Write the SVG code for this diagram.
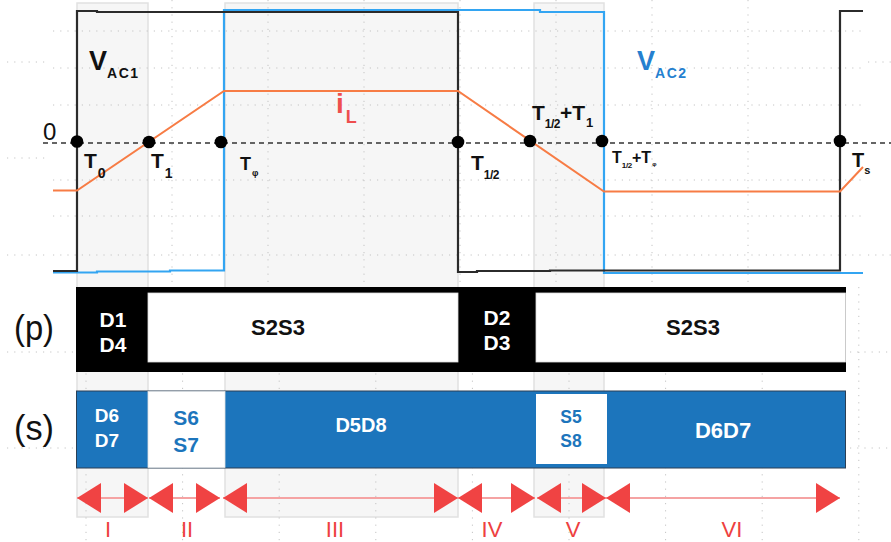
<svg xmlns="http://www.w3.org/2000/svg" width="891" height="542" viewBox="0 0 891 542">
  <style>
    text { font-family: "Liberation Sans", Arial, sans-serif; }
    .grid { stroke: #c4c4c4; stroke-width: 1; stroke-dasharray: 1.2 6; fill: none; }
    .shade { fill: #f6f6f6; stroke: #e1e1e1; stroke-width: 1.5; }
    .vac1 { fill: none; stroke: #2b2b2b; stroke-width: 2.2; }
    .vac2 { fill: none; stroke: #33a5f2; stroke-width: 2.2; }
    .il { fill: none; stroke: #f77c45; stroke-width: 2; }
    .zero { stroke: #333; stroke-width: 1.4; stroke-dasharray: 5 4; }
    .dot { fill: #000; }
    .tlab { font-weight: bold; fill: #111; }
    .dim { stroke: #f5a3a3; stroke-width: 2; marker-start: url(#tri); marker-end: url(#tri); }
    .roman { font-size: 22px; fill: #ee4040; text-anchor: middle; }
    .wt { fill: #fff; text-anchor: middle; font-weight: bold; }
    .bt { fill: #1c75bc; text-anchor: middle; font-weight: bold; }
  </style>
  <defs>
    <marker id="tri" viewBox="0 0 24 30" refX="24" refY="15" markerWidth="24" markerHeight="30" markerUnits="userSpaceOnUse" orient="auto-start-reverse">
      <path d="M0,0 L24,15 L0,30 Z" fill="#f04343"/>
    </marker>
  </defs>

  <rect width="891" height="542" fill="#fff"/>

  <!-- interval shading -->
  <g id="shading">
    <rect class="shade" x="77" y="3" width="71" height="514"/>
    <rect class="shade" x="225" y="3" width="233" height="514"/>
    <rect class="shade" x="534" y="3" width="70" height="514"/>
  </g>

  <!-- background dotted grids -->
  <g id="grid">
    <path class="grid" d="M172 0V287M268 0V287M364 0V287M460 0V287M556 0V287M652 0V287M748 0V287"/>
    <path class="grid" d="M53 31H863M53 68H863M53 105H863M53 180H863M53 216H863M53 255H863"/>
    <path class="grid" d="M7 62H47M7 158H47M7 255H47M868 62H891M868 255H891"/>
    <path class="grid" d="M7 352H75M7 448H75M850 352H891M850 448H891"/>
    <path class="grid" d="M86 287V542M182.6 287V542M279.2 287V542M375.8 287V542M472.4 287V542M569 287V542M665.6 287V542M762.2 287V542M858.8 287V542"/>
  </g>

  <!-- zero axis -->
  <line id="axis" class="zero" x1="43" y1="143" x2="891" y2="143"/>
  <text x="43" y="140" font-size="24" fill="#111">0</text>

  <!-- waveforms -->
  <g id="vac2">
    <path class="vac2" d="M53 272.5H97V271.5H170V270.5H224V10H540V12H604V273H863"/>
  </g>
  <g id="vac1">
    <path class="vac1" d="M53 271H77V11H97V12H458V272H477V271H550V270.5H840V11H863"/>
  </g>
  <g id="il">
    <path class="il" d="M53 190.5H77L224 91H458L604 191.5H840L863 167"/>
  </g>

  <!-- time instants -->
  <g id="instants">
    <circle class="dot" cx="77" cy="141.5" r="6.3"/>
    <circle class="dot" cx="149" cy="142" r="6.3"/>
    <circle class="dot" cx="221" cy="142" r="6.3"/>
    <circle class="dot" cx="458" cy="142" r="6.3"/>
    <circle class="dot" cx="530" cy="141" r="6.3"/>
    <circle class="dot" cx="602" cy="141" r="6.3"/>
    <circle class="dot" cx="840" cy="141" r="6.3"/>
  </g>

  <!-- trace labels -->
  <g id="labels">
    <text x="89" y="70" font-size="27" font-weight="bold" fill="#111">V<tspan font-size="14" dy="8" letter-spacing="1.5">AC1</tspan></text>
    <text x="637" y="70" font-size="27" font-weight="bold" fill="#2580cf">V<tspan font-size="14" dy="8" letter-spacing="1.5">AC2</tspan></text>
    <text x="336" y="113" font-size="28" font-weight="bold" fill="#ee4e4e">i<tspan font-size="18" dx="2" dy="10">L</tspan></text>

    <text class="tlab" x="84" y="168" font-size="21">T<tspan font-size="14" dx="1" dy="10">0</tspan></text>
    <text class="tlab" x="151" y="168" font-size="21">T<tspan font-size="14" dx="1" dy="10">1</tspan></text>
    <text class="tlab" x="240" y="170" font-size="18">T<tspan font-size="9" dx="1" dy="6">φ</tspan></text>
    <text class="tlab" x="471" y="170" font-size="21">T<tspan font-size="12" dy="9" letter-spacing="-0.5">1/2</tspan></text>
    <text class="tlab" x="532" y="120" font-size="21">T<tspan font-size="12" dy="8" letter-spacing="-0.5">1/2</tspan><tspan dy="-8">+T</tspan><tspan font-size="13" dx="1" dy="7">1</tspan></text>
    <text class="tlab" x="612" y="163" font-size="16">T<tspan font-size="8" dy="5" letter-spacing="-0.3">1/2</tspan><tspan dy="-5">+T</tspan><tspan font-size="6" dx="1" dy="3">φ</tspan></text>
    <text class="tlab" x="852" y="167" font-size="20">T<tspan font-size="11" dx="0" dy="7">s</tspan></text>
  </g>

  <!-- primary bridge states -->
  <g id="bar-p">
    <text x="14" y="340" font-size="35" fill="#111" textLength="40" lengthAdjust="spacingAndGlyphs">(p)</text>
    <rect x="76" y="287" width="770" height="85" fill="#000"/>
    <g id="p-d1d4">
      <text class="wt" x="113" y="327" font-size="21">D1</text>
      <text class="wt" x="113" y="352" font-size="21">D4</text>
    </g>
    <g id="p-s2s3-a">
      <rect x="148" y="293" width="310" height="69" fill="#fff" stroke="#ddd" stroke-width="0.8"/>
      <text x="278" y="335" font-size="22" font-weight="bold" text-anchor="middle" fill="#111">S2S3</text>
    </g>
    <g id="p-d2d3">
      <text class="wt" x="497" y="325" font-size="21">D2</text>
      <text class="wt" x="497" y="350" font-size="21">D3</text>
    </g>
    <g id="p-s2s3-b">
      <rect x="536" y="293" width="309.5" height="69" fill="#fff" stroke="#ddd" stroke-width="0.8"/>
      <text x="693" y="335" font-size="22" font-weight="bold" text-anchor="middle" fill="#111">S2S3</text>
    </g>
  </g>

  <!-- secondary bridge states -->
  <g id="bar-s">
    <text x="14" y="440" font-size="35" fill="#111" textLength="40" lengthAdjust="spacingAndGlyphs">(s)</text>
    <rect x="76.5" y="391" width="769" height="77" fill="#1c75bc" stroke="#2a3f55" stroke-width="1"/>
    <g id="s-d6d7-a">
      <text class="wt" x="107" y="422" font-size="19">D6</text>
      <text class="wt" x="107" y="447" font-size="19">D7</text>
    </g>
    <g id="s-s6s7">
      <rect x="148" y="391.5" width="77" height="76" fill="#fff" stroke="#e0e0e0" stroke-width="0.8"/>
      <text class="bt" x="186" y="425" font-size="21">S6</text>
      <text class="bt" x="186" y="452" font-size="21">S7</text>
    </g>
    <g id="s-d5d8">
      <text class="wt" x="361" y="432" font-size="20">D5D8</text>
    </g>
    <g id="s-s5s8">
      <rect x="536" y="394" width="71" height="70" fill="#fff"/>
      <text class="bt" x="571" y="423" font-size="17.5">S5</text>
      <text class="bt" x="571" y="447" font-size="17.5">S8</text>
    </g>
    <g id="s-d6d7-b">
      <text class="wt" x="723" y="438" font-size="22">D6D7</text>
    </g>
  </g>

  <!-- interval spans -->
  <g id="intervals">
    <line class="dim" x1="77" y1="498" x2="148" y2="498"/>
    <line class="dim" x1="149" y1="498" x2="220" y2="498"/>
    <line class="dim" x1="223" y1="498" x2="458" y2="498"/>
    <line class="dim" x1="458" y1="498" x2="535" y2="498"/>
    <line class="dim" x1="537" y1="498" x2="606" y2="498"/>
    <line class="dim" x1="606" y1="498" x2="840" y2="498"/>
  </g>
  <g id="interval-labels">
    <text class="roman" x="108" y="537">I</text>
    <text class="roman" x="187" y="537">II</text>
    <text class="roman" x="335" y="537">III</text>
    <text class="roman" x="492" y="537">IV</text>
    <text class="roman" x="573" y="537">V</text>
    <text class="roman" x="732" y="537">VI</text>
  </g>
</svg>
